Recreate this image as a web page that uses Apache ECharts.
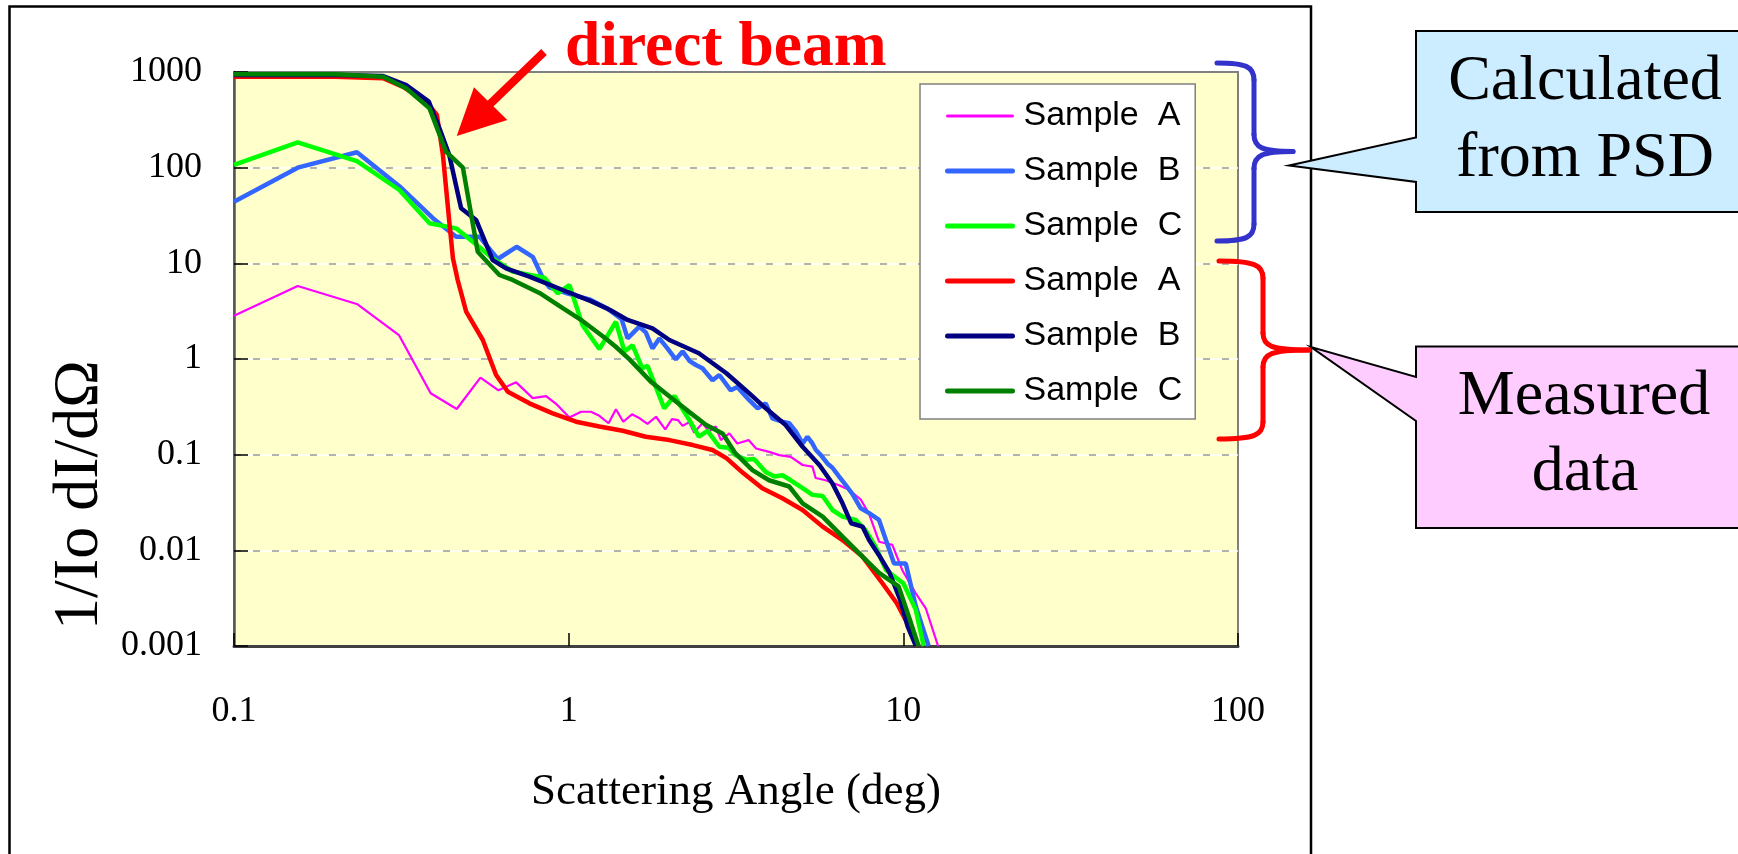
<!DOCTYPE html>
<html>
<head>
<meta charset="utf-8">
<script src="https://cdn.jsdelivr.net/npm/echarts@6/dist/echarts.min.js"></script>
<style>
html,body{margin:0;padding:0;background:#fff;}
#chart{width:1738px;height:854px;}
</style>
</head>
<body>
<div id="chart"></div>
<script>
// ---- data ----
const X_TICK_LABELS = ['0.1', '1', '10', '100'];
const Y_TICK_LABELS = ['0.001', '0.01', '0.1', '1', '10', '100', '1000'];
const SERIES_KEYS = ['calcA', 'calcB', 'calcC', 'measA', 'measB', 'measC'];
const LEGEND_LABELS = ['Sample  A', 'Sample  B', 'Sample  C', 'Sample  A', 'Sample  B', 'Sample  C'];

// Calculated from PSD
const calcA = [[0.1,2.84],[0.155,5.8],[0.234,3.73],[0.311,1.78],[0.387,0.438],[0.463,0.30],[0.545,0.64],[0.617,0.47],[0.697,0.57],[0.781,0.39],[0.856,0.41],[0.917,0.34],[1.005,0.245],[1.089,0.281],[1.166,0.281],[1.235,0.255],[1.316,0.213],[1.384,0.298],[1.456,0.221],[1.546,0.264],[1.63,0.24],[1.72,0.21],[1.824,0.249],[1.944,0.184],[2.035,0.235],[2.12,0.23],[2.19,0.2],[2.29,0.218],[2.37,0.17],[2.51,0.213],[2.63,0.175],[2.75,0.197],[2.85,0.142],[3.02,0.167],[3.19,0.131],[3.45,0.142],[3.63,0.116],[3.97,0.107],[4.26,0.099],[4.61,0.095],[5.0,0.078],[5.35,0.075],[5.47,0.057],[5.86,0.054],[6.42,0.048],[6.88,0.043],[7.46,0.034],[7.9,0.024],[8.46,0.0123],[9.27,0.0114],[9.93,0.0062],[10.89,0.00356],[11.67,0.00248],[12.7,0.001]];
const calcB = [[0.1,44],[0.155,100],[0.233,145],[0.312,64],[0.393,29.6],[0.461,19],[0.541,19],[0.614,11.1],[0.699,14.9],[0.781,11.7],[0.836,7.08],[0.876,5.6],[1.0,4.8],[1.153,4.2],[1.30,3.4],[1.44,2.6],[1.50,1.64],[1.626,2.18],[1.70,1.9],[1.78,1.29],[1.866,1.64],[1.97,1.3],[2.09,0.99],[2.19,1.2],[2.30,0.95],[2.40,0.865],[2.51,0.80],[2.69,0.60],[2.82,0.68],[3.05,0.47],[3.19,0.51],[3.46,0.373],[3.67,0.305],[3.88,0.344],[4.06,0.24],[4.35,0.221],[4.56,0.213],[4.77,0.175],[5.0,0.131],[5.17,0.154],[5.35,0.131],[5.48,0.112],[5.67,0.099],[5.93,0.081],[6.14,0.073],[6.43,0.059],[6.73,0.048],[7.04,0.039],[7.46,0.0275],[7.9,0.0245],[8.46,0.0208],[9.38,0.0073],[10.17,0.0073],[10.89,0.0026],[11.9,0.001]];
const calcC = [[0.1,107],[0.155,184],[0.233,117],[0.312,58.4],[0.384,26.2],[0.461,23.2],[0.517,16.8],[0.593,11.3],[0.68,8.2],[0.76,7.6],[0.846,7.08],[0.927,4.86],[1.005,5.94],[1.10,2.26],[1.235,1.27],[1.384,2.45],[1.467,1.2],[1.553,1.39],[1.66,0.80],[1.72,0.85],[1.93,0.305],[2.07,0.41],[2.29,0.233],[2.45,0.154],[2.60,0.177],[2.82,0.121],[3.0,0.118],[3.15,0.099],[3.40,0.0885],[3.58,0.09],[3.88,0.066],[4.12,0.059],[4.35,0.061],[4.61,0.054],[5.0,0.0446],[5.35,0.038],[5.74,0.037],[6.14,0.0264],[6.58,0.0225],[7.2,0.0208],[7.71,0.0163],[8.26,0.0109],[8.88,0.0062],[10.0,0.00453],[10.89,0.0024],[11.5,0.001]];
// Measured data
const measA = [[0.1,893],[0.2,893],[0.279,860],[0.320,700],[0.375,490],[0.404,355],[0.421,135],[0.44,27],[0.451,11.3],[0.466,6.7],[0.494,3.13],[0.554,1.58],[0.607,0.68],[0.658,0.455],[0.763,0.344],[0.896,0.27],[1.052,0.221],[1.235,0.197],[1.45,0.178],[1.70,0.154],[2.0,0.142],[2.35,0.126],[2.69,0.112],[2.96,0.092],[3.33,0.0638],[3.79,0.0446],[4.35,0.035],[5.0,0.0264],[5.74,0.0177],[6.58,0.0128],[7.55,0.0086],[8.67,0.0045],[9.56,0.0028],[10.4,0.0016],[11.1,0.001]];
const measB = [[0.1,930],[0.2,930],[0.279,908],[0.327,731],[0.382,490],[0.411,258],[0.44,135],[0.477,37.6],[0.529,28.4],[0.593,10.8],[0.65,8.87],[0.763,7.25],[0.96,5.26],[1.17,4.0],[1.33,3.25],[1.50,2.56],[1.78,2.09],[2.0,1.58],[2.45,1.15],[2.96,0.71],[3.46,0.44],[3.88,0.305],[4.45,0.204],[5.0,0.121],[5.62,0.0775],[6.14,0.050],[6.58,0.031],[6.98,0.0192],[7.55,0.0177],[7.9,0.0128],[8.46,0.0089],[9.1,0.0058],[9.8,0.003],[10.3,0.0016],[10.9,0.001]];
const measC = [[0.1,950],[0.2,950],[0.279,890],[0.327,675],[0.384,417],[0.43,147],[0.483,100],[0.535,13.2],[0.621,7.55],[0.68,6.7],[0.818,4.9],[0.96,3.4],[1.10,2.5],[1.29,1.64],[1.38,1.35],[1.52,0.99],[1.76,0.58],[2.02,0.395],[2.29,0.28],[2.57,0.205],[2.89,0.165],[3.15,0.103],[3.54,0.069],[3.97,0.054],[4.56,0.0465],[5.0,0.031],[5.74,0.0225],[6.58,0.0139],[7.55,0.0086],[8.46,0.0058],[9.68,0.0042],[10.4,0.002],[11.1,0.001]];

const SERIES_DATA = [calcA, calcB, calcC, measA, measB, measC];
const SERIES_COLORS = ['#FF00FF', '#3366FF', '#00FF00', '#FF0000', '#000080', '#008000'];
const SERIES_WIDTHS = [2.2, 4.5, 4.5, 4.5, 4.5, 4.5];
const LEGEND_WIDTHS = [3, 5, 5, 5, 5, 5];

const SERIF = '"Liberation Serif","Times New Roman",serif';
const SANS = '"Liberation Sans",Arial,sans-serif';

const chart = echarts.init(document.getElementById('chart'), null, {renderer: 'canvas'});

const series = SERIES_KEYS.map((k, i) => ({
  name: k,
  type: 'line',
  data: SERIES_DATA[i],
  symbol: 'none',
  showSymbol: false,
  smooth: false,
  clip: true,
  color: SERIES_COLORS[i],
  lineStyle: {color: SERIES_COLORS[i], width: SERIES_WIDTHS[i]},
  z: 2 + i
}));

// curly brace built from bezier curves and lines (decoration)
function brace(x0, xv, xt, yTop, yMid, yBot, color) {
  const st = {fill: 'none', stroke: color, lineWidth: 5, lineCap: 'round'};
  const r = 17;
  return [
    {type: 'bezierCurve', z: 100, shape: {x1: x0, y1: yTop, cpx1: x0 + (xv - x0) * 0.8, cpy1: yTop, cpx2: xv, cpy2: yTop + 4, x2: xv, y2: yTop + r}, style: st},
    {type: 'line', z: 100, shape: {x1: xv, y1: yTop + r, x2: xv, y2: yMid - r}, style: st},
    {type: 'bezierCurve', z: 100, shape: {x1: xv, y1: yMid - r, cpx1: xv, cpy1: yMid - 4, cpx2: xv + 8, cpy2: yMid, x2: xt, y2: yMid}, style: st},
    {type: 'bezierCurve', z: 100, shape: {x1: xt, y1: yMid, cpx1: xv + 8, cpy1: yMid, cpx2: xv, cpy2: yMid + 4, x2: xv, y2: yMid + r}, style: st},
    {type: 'line', z: 100, shape: {x1: xv, y1: yMid + r, x2: xv, y2: yBot - r}, style: st},
    {type: 'bezierCurve', z: 100, shape: {x1: xv, y1: yBot - r, cpx1: xv, cpy1: yBot - 4, cpx2: x0 + (xv - x0) * 0.8, cpy2: yBot, x2: x0, y2: yBot}, style: st}
  ];
}

const option = {
  animation: false,
  backgroundColor: '#fff',
  grid: {
    left: 234, top: 72, right: 500, bottom: 208,
    show: true, backgroundColor: '#FFFFCC', borderColor: '#808080', borderWidth: 2
  },
  xAxis: {
    type: 'log', logBase: 10, min: 0.1, max: 100, interval: 1,
    axisLine: {show: true, lineStyle: {color: '#404040', width: 3}},
    axisTick: {show: true, inside: true, length: 13, lineStyle: {color: '#000', width: 1.5}},
    axisLabel: {
      margin: 48, color: '#000', fontFamily: SERIF, fontSize: 36,
      formatter: v => X_TICK_LABELS[Math.round(Math.log10(v)) + 1]
    },
    splitLine: {show: false},
    minorTick: {show: false},
    name: 'Scattering Angle (deg)', nameLocation: 'middle', nameGap: 124,
    nameTextStyle: {color: '#000', fontFamily: SERIF, fontSize: 45}
  },
  yAxis: [{
    type: 'log', logBase: 10, min: 0.001, max: 1000, interval: 1,
    axisLine: {show: true, lineStyle: {color: '#555', width: 2.5}},
    axisTick: {show: true, inside: true, length: 14, lineStyle: {color: '#000', width: 1.5}},
    axisLabel: {
      margin: 32, color: '#000', fontFamily: SERIF, fontSize: 36,
      formatter: v => Y_TICK_LABELS[Math.round(Math.log10(v)) + 3]
    },
    splitLine: {show: true, showMinLine: false, showMaxLine: false, lineStyle: {color: '#ffffff', width: 1.5}}
  }, {
    type: 'log', logBase: 10, min: 0.001, max: 1000, interval: 1, position: 'left',
    axisLine: {show: false}, axisTick: {show: false}, axisLabel: {show: false},
    splitLine: {show: true, showMinLine: false, showMaxLine: false, lineStyle: {color: '#999999', width: 1.5, type: [7, 12]}}
  }],
  legend: {
    show: true, orient: 'vertical', left: 920, top: 84,
    data: SERIES_KEYS.map((k, i) => ({name: k, lineStyle: {width: LEGEND_WIDTHS[i], cap: 'round'}})),
    backgroundColor: '#ffffff', borderColor: '#808080', borderWidth: 1.5, borderRadius: 0,
    padding: [15, 13, 11, 25],
    itemWidth: 65, itemHeight: 2, itemGap: 21,
    selectedMode: false,
    textStyle: {color: '#000', fontFamily: SANS, fontSize: 34, lineHeight: 34, padding: [0, 0, 0, 6]},
    formatter: name => LEGEND_LABELS[SERIES_KEYS.indexOf(name)]
  },
  series: series,
  graphic: [
    // outer frame
    {type: 'rect', z: 100, shape: {x: 9.5, y: 6.5, width: 1301.5, height: 900}, style: {fill: 'none', stroke: '#000', lineWidth: 2.5}},
    // y-axis title
    {type: 'text', z: 100, x: 80, y: 495, rotation: Math.PI / 2,
      style: {text: '1/Io dI/dΩ', font: '64px ' + SERIF, fill: '#000', textAlign: 'center', textVerticalAlign: 'middle'}},
    // direct beam label + arrow
    {type: 'text', z: 100, x: 565, y: 49,
      style: {text: 'direct beam', font: 'bold 63.5px ' + SERIF, fill: '#FF0000', textAlign: 'left', textVerticalAlign: 'middle'}},
    {type: 'line', z: 100, shape: {x1: 544, y1: 52, x2: 488, y2: 106}, style: {stroke: '#FF0000', lineWidth: 8}},
    {type: 'polygon', z: 100, shape: {points: [[456.7, 136], [474, 87.3], [507.3, 120]]}, style: {fill: '#FF0000'}},
    // callouts
    {type: 'polygon', z: 100, shape: {points: [[1416, 31], [1745, 31], [1745, 212], [1416, 212], [1416, 182], [1289, 165.6], [1416, 137.5]]},
      style: {fill: '#CCECFF', stroke: '#000', lineWidth: 2}},
    {type: 'polygon', z: 100, shape: {points: [[1416, 346.5], [1745, 346.5], [1745, 528], [1416, 528], [1416, 421], [1311, 347], [1416, 377]]},
      style: {fill: '#FFCCFF', stroke: '#000', lineWidth: 2}},
    {type: 'text', z: 101, x: 1585, y: 82, style: {text: 'Calculated', font: '64px ' + SERIF, fill: '#000', textAlign: 'center', textVerticalAlign: 'middle'}},
    {type: 'text', z: 101, x: 1585, y: 159, style: {text: 'from PSD', font: '64px ' + SERIF, fill: '#000', textAlign: 'center', textVerticalAlign: 'middle'}},
    {type: 'text', z: 101, x: 1584, y: 397, style: {text: 'Measured', font: '64px ' + SERIF, fill: '#000', textAlign: 'center', textVerticalAlign: 'middle'}},
    {type: 'text', z: 101, x: 1585, y: 473, style: {text: 'data', font: '64px ' + SERIF, fill: '#000', textAlign: 'center', textVerticalAlign: 'middle'}}
  ].concat(brace(1217, 1254, 1293, 63, 151.5, 241, '#3333CC'))
   .concat(brace(1219, 1263, 1309, 261, 350, 439, '#FF0000'))
};
chart.setOption(option);
</script>
</body>
</html>
